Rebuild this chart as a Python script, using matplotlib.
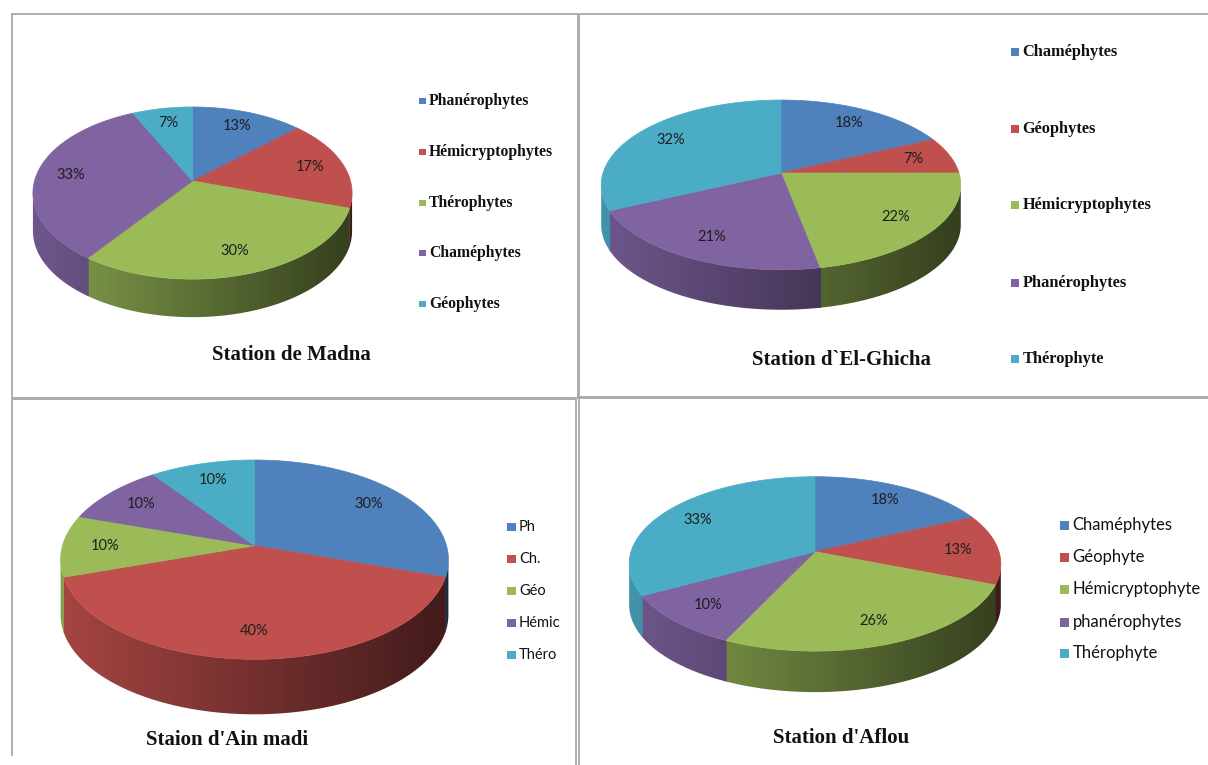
import numpy as np
import matplotlib
matplotlib.use("Agg")
import matplotlib.pyplot as plt
from matplotlib.patches import Polygon, Rectangle
from matplotlib.colors import to_rgb

# data
madna_labels = ["Phanérophytes", "Hémicryptophytes", "Thérophytes", "Chaméphytes", "Géophytes"]
madna_values = [13, 17, 30, 33, 7]

ghicha_labels = ["Chaméphytes", "Géophytes", "Hémicryptophytes", "Phanérophytes", "Thérophyte"]
ghicha_values = [18, 7, 22, 21, 32]

ainmadi_labels = ["Ph", "Ch.", "Géo", "Hémic", "Théro"]
ainmadi_values = [30, 40, 10, 10, 10]

aflou_labels = ["Chaméphytes", "Géophyte", "Hémicryptophyte", "phanérophytes", "Thérophyte"]
aflou_values = [18, 13, 26, 10, 33]

colors = ["#4F81BD", "#C0504D", "#9BBB59", "#8064A2", "#4BACC6"]

SANS = ["Lato", "DejaVu Sans"]
SERIF = ["Liberation Serif", "DejaVu Serif"]


def pie3d(ax, values, cx, cy, rx, ry, depth, p=0.14, lab_r=0.78, fs=10.5):
    total = float(sum(values))

    def proj(t, r=1.0):
        # simple perspective: the far side of the disc is a bit smaller
        u, v = r * np.cos(t), r * np.sin(t)
        w = 1 + p * v
        return cx + rx * u / w, cy - ry * v / w

    # left / right extremes of the side wall
    tt = np.radians(np.linspace(-180, 0, 3601))
    xs, _ = proj(tt)
    t_left, t_right = np.degrees(tt[np.argmin(xs)]), np.degrees(tt[np.argmax(xs)])

    # slices start at 12 o'clock and go clockwise
    start = 0.0
    angles = []
    for val in values:
        a0 = 90 - 360 * start / total
        a1 = 90 - 360 * (start + val) / total
        angles.append((a0, a1))
        start += val

    # front side walls, gradient from light (left) to dark (right)
    xg = np.linspace(cx - rx - 3, cx + rx + 3, 400)
    shade = 0.86 - 0.52 * np.clip((xg - (cx - rx)) / (2 * rx), 0, 1)
    for (a0, a1), col in zip(angles, colors):
        for k in (-360, 0, 360):
            s = max(a1 + k - 0.4, t_left)
            e = min(a0 + k + 0.4, t_right)
            if e <= s:
                continue
            ts = np.radians(np.linspace(s, e, max(int(e - s), 2) + 1))
            px, py = proj(ts)
            pts = list(zip(px, py)) + list(zip(px[::-1], py[::-1] + depth))
            poly = Polygon(pts, closed=True, transform=ax.transData)
            img = np.array(to_rgb(col))[None, None, :] * shade[None, :, None]
            im = ax.imshow(img, extent=(xg[0], xg[-1], cy + ry * 2 + depth, cy - ry * 2),
                           aspect="auto", interpolation="bilinear", zorder=1)
            im.set_clip_path(poly)

    # top faces + percentage labels
    for (a0, a1), col, val in zip(angles, colors, values):
        ts = np.radians(np.linspace(a0, a1, max(int(abs(a1 - a0)), 2) + 1))
        px, py = proj(ts)
        pts = [proj(0.0, 0.0)] + list(zip(px, py))
        ax.add_patch(Polygon(pts, closed=True, facecolor=col, edgecolor=col, lw=0.5, zorder=2))
        tm = np.radians((a0 + a1) / 2)
        lx, ly = proj(tm, lab_r)
        ax.text(lx, ly, "%d%%" % val, ha="center", va="center", fontsize=fs,
                family=SANS, color="#1e1e1e", zorder=3)


def legend(ax, labels, x, ys, size, fs, family, weight):
    for lab, col, y in zip(labels, colors, ys):
        ax.add_patch(Rectangle((x, y - size / 2), size, size, facecolor=col, edgecolor="none"))
        ax.text(x + size + 3.5, y, lab, ha="left", va="center", fontsize=fs,
                family=family, weight=weight, color="#111111")


fig = plt.figure(figsize=(12.08, 7.65), dpi=100)
ax = fig.add_axes([0, 0, 1, 1])
ax.axis("off")

# panel frames
gray = "#a8a8a8"
ax.plot([12, 578, 578, 12, 12], [14, 14, 398, 398, 14], color=gray, lw=1.3)
ax.plot([1212, 579, 579, 1212], [14, 14, 397, 397], color=gray, lw=1.3)
ax.plot([12, 12, 576, 576], [755, 399, 399, 765], color=gray, lw=1.3)
ax.plot([579, 579, 1212], [770, 398, 398], color=gray, lw=1.3)

# Station de Madna
pie3d(ax, madna_values, 192.5, 181, 158, 84.4, 38)
legend(ax, madna_labels, 419, [101, 152, 203, 253, 304], 6.5, 11.3, SERIF, "bold")
ax.text(291, 355, "Station de Madna", ha="center", va="center", fontsize=15,
        family=SERIF, weight="bold", color="#111111")

# Station d`El-Ghicha
pie3d(ax, ghicha_values, 781, 173, 178, 83.2, 40)
legend(ax, ghicha_labels, 1011, [52, 129, 205, 283, 359], 8, 11.8, SERIF, "bold")
ax.text(841, 360, "Station d`El-Ghicha", ha="center", va="center", fontsize=15,
        family=SERIF, weight="bold", color="#111111")

# Staion d'Ain madi
pie3d(ax, ainmadi_values, 254.5, 545.7, 192, 97.7, 55)
legend(ax, ainmadi_labels, 507, [527, 559, 591, 623, 655], 8.5, 10.5, SANS, "normal")
ax.text(227, 740, "Staion d'Ain madi", ha="center", va="center", fontsize=15,
        family=SERIF, weight="bold", color="#111111")

# Station d'Aflou
pie3d(ax, aflou_values, 815, 551.7, 184, 85.5, 41)
legend(ax, aflou_labels, 1060, [525, 557, 589, 622, 653], 9, 12, SANS, "normal")
ax.text(841.5, 738, "Station d'Aflou", ha="center", va="center", fontsize=15,
        family=SERIF, weight="bold", color="#111111")

ax.set_xlim(0, 1208)
ax.set_ylim(765, 0)
fig.savefig("out.png", dpi=100)
